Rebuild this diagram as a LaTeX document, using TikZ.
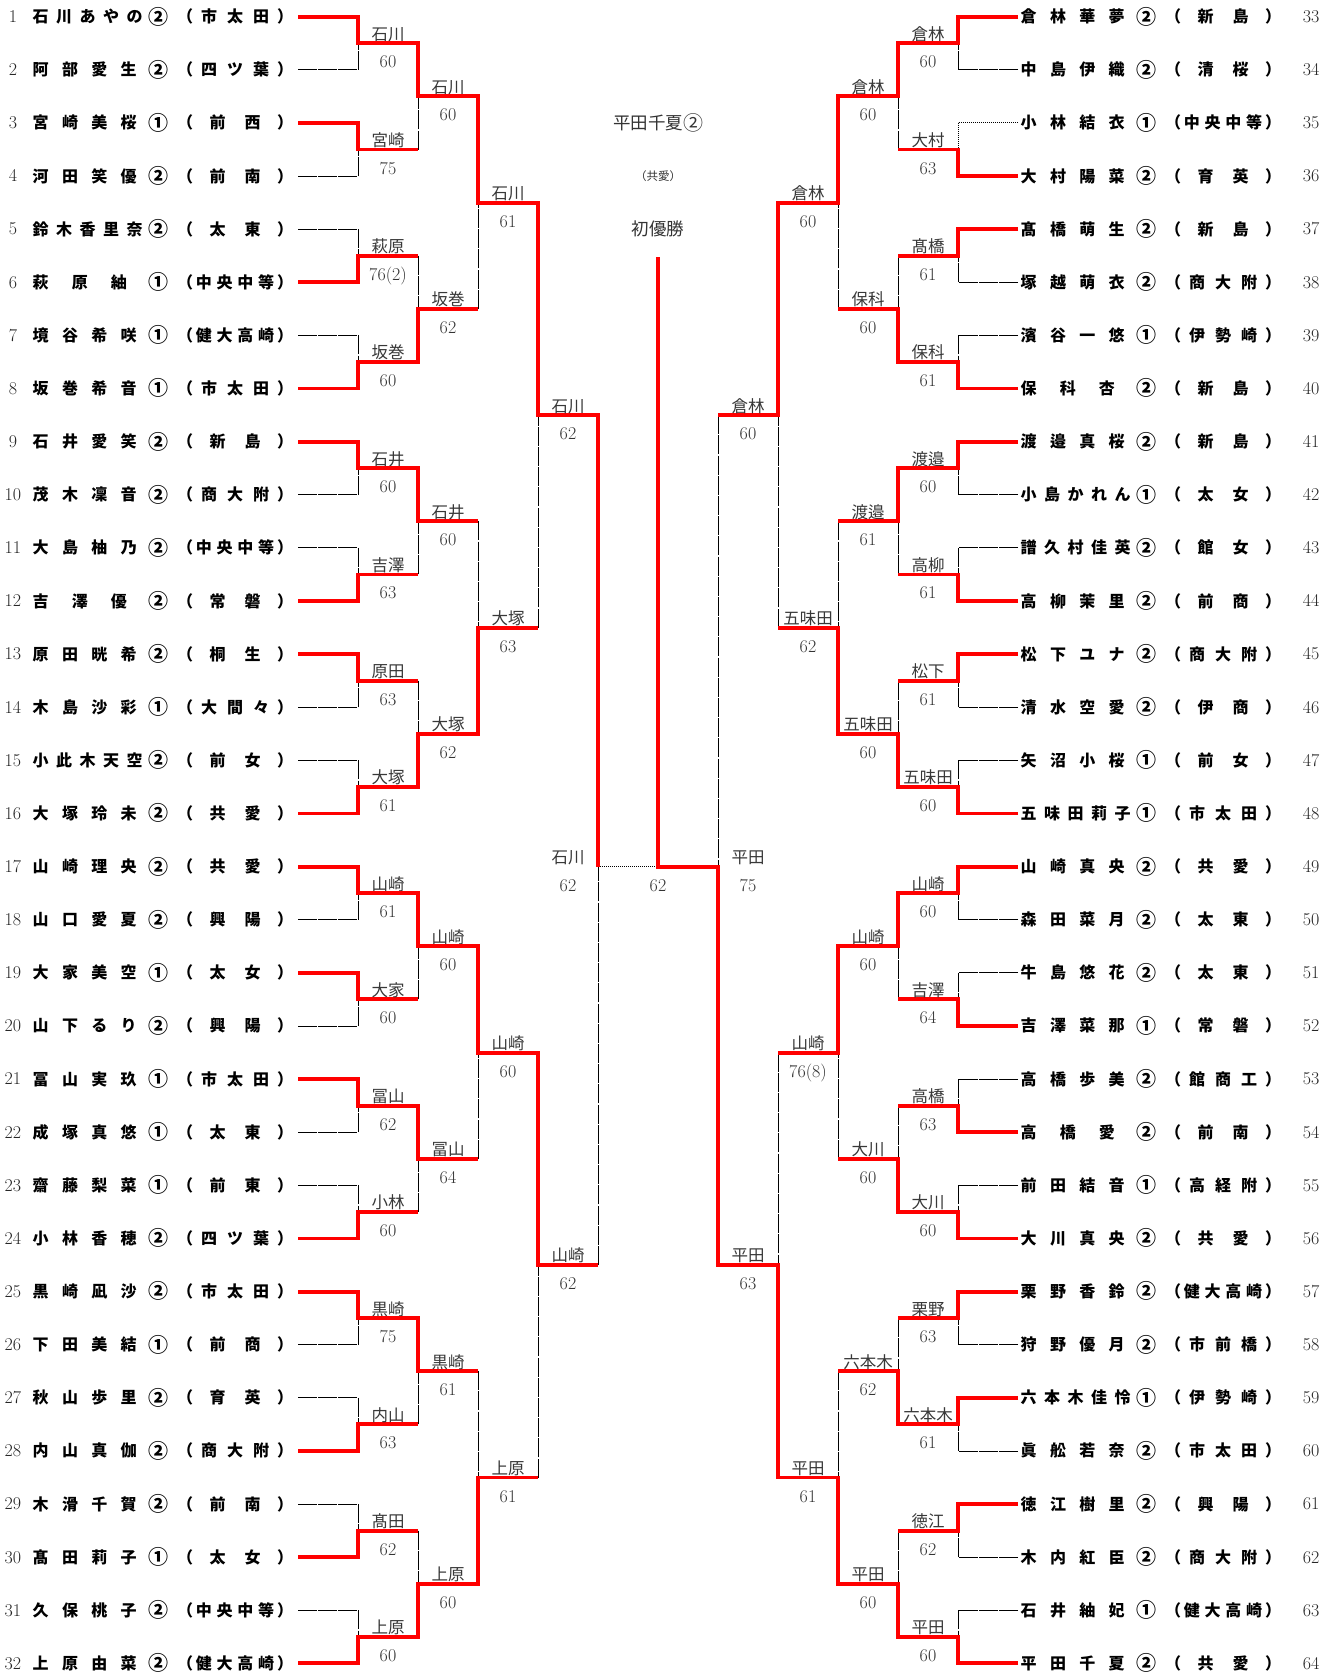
\documentclass[tikz,border=0pt]{standalone}
\usepackage{fontspec}
\newfontfamily\cjk{Noto Sans CJK JP}
\pgfdeclarelayer{bg}
\pgfsetlayers{bg,main}
\newcommand\cn[1]{\raisebox{-1.4pt}{\fontsize{20}{20}\selectfont#1}}
\tikzset{
 win/.style={draw=red, line width=3.9pt, line join=miter},
 lose/.style={draw=black, line width=0.9pt, dash pattern=on 19pt off 1.2pt},
 dotl/.style={draw=black, line width=0.9pt, dash pattern=on 0.9pt off 1.1pt},
 nm/.style={anchor=base, yshift=-6pt, inner sep=0pt, font=\cjk\bfseries\fontsize{16}{16}\selectfont},
 num/.style={anchor=base, yshift=-5.8pt, inner sep=0pt, text=black!85, font=\fontsize{18}{18}\selectfont},
 lab/.style={anchor=base, yshift=-6.2pt, inner sep=0pt, text=black!78, font=\cjk\fontsize{16.5}{16.5}\selectfont},
 sc/.style={anchor=base, yshift=-5.8pt, inner sep=0pt, text=black!80, font=\fontsize{18}{18}\selectfont},
 champ/.style={anchor=base, yshift=-6.5pt, inner sep=0pt, text=black!80, font=\cjk\fontsize{17.5}{17.5}\selectfont},
 champs/.style={anchor=base, yshift=-4.3pt, inner sep=0pt, text=black!80, font=\cjk\fontsize{11.5}{11.5}\selectfont},
}
% match: [loser style]{side}{round}{first row}{winner 0 top/1 bottom}{label}{score}
\newcommand\bm[7][lose]{%
 \pgfmathsetmacro\nn{2^#3}%
 \pgfmathsetmacro\yt{16.7+53.12*((2*#4+\nn/2-1)/2-1)}%
 \pgfmathsetmacro\yb{16.7+53.12*((2*#4+1.5*\nn-1)/2-1)}%
 \pgfmathsetmacro\ym{(\yt+\yb)/2}%
 \pgfmathsetmacro\xp{658-(#2)*(420-60*#3)}%
 \pgfmathsetmacro\xa{658-(#2)*(360-60*#3)}%
 \pgfmathsetmacro\xb{658-(#2)*(300-60*#3)}%
 \pgfmathsetmacro\xl{(\xa+\xb)/2}%
 \ifnum#5=0 \let\yw\yt \let\yl\yb \else \let\yw\yb \let\yl\yt \fi
 \coordinate (w#3s#2a#4) at (\xb,\ym);
 \coordinate (v#3s#2a#4) at (\xa,\ym);
 \begin{pgfonlayer}{bg}
  \draw[#1] (\xa,\yl) -- (v#3s#2a#4);
  \ifnum#3=1 \draw[#1] (\xp,\yl) -- (\xa,\yl);\fi
 \end{pgfonlayer}
 \draw[win] (\xp,\yw) -- (\xa,\yw) -- (v#3s#2a#4) -- (w#3s#2a#4);
 \node[lab] (L#3s#2a#4) at (\xl,\ym-9.3) {#6};
 \node[sc] (S#3s#2a#4) at (\xl,\ym+18.7) {#7};
}
% entry: {row}{name chars}{school chars}
\newcommand\entry[3]{%
 \ifnum#1>32 \def\xo{988}\pgfmathsetmacro\ey{16.7+53.12*(#1-33)}\def\nx{1311}%
 \else \def\xo{0}\pgfmathsetmacro\ey{16.7+53.12*(#1-1)}\def\nx{13}\fi
 \node[num] (r#1) at (\nx,\ey) {#1};
 \foreach \c [count=\k] in {#2} {\xdef\nname{\k}}
 \foreach \c [count=\k] in {#2} {\node[nm] (r#1n\k) at ({\xo+40.7+(\k-1)*117.3/(\nname-1)},\ey) {\c};}
 \node[nm] (r#1o) at (\xo+185,\ey) {（};
 \node[nm] (r#1c) at (\xo+285,\ey) {）};
 \foreach \c [count=\k] in {#3} {\xdef\nsch{\k}}
 \pgfmathsetmacro\schsp{\nsch==2 ? 35 : (\nsch==3 ? 26 : 20.8)}
 \foreach \c [count=\k] in {#3} {\node[nm] (r#1s\k) at ({\xo+235+(\k-(\nsch+1)/2)*\schsp},\ey) {\c};}
}
\begin{document}
\begin{tikzpicture}[x=1pt,y=-1pt]
\begin{pgfonlayer}{bg}
\fill[white] (0,0) rectangle (1338,1676);
\end{pgfonlayer}
\useasboundingbox (0,0) rectangle (1338,1676);

% ---- entries, left
\entry{1}{石,川,あ,や,の,\cn{②}}{市,太,田}
\entry{2}{阿,部,愛,生,\cn{②}}{四,ツ,葉}
\entry{3}{宮,崎,美,桜,\cn{①}}{前,西}
\entry{4}{河,田,笑,優,\cn{②}}{前,南}
\entry{5}{鈴,木,香,里,奈,\cn{②}}{太,東}
\entry{6}{萩,原,紬,\cn{①}}{中,央,中,等}
\entry{7}{境,谷,希,咲,\cn{①}}{健,大,高,崎}
\entry{8}{坂,巻,希,音,\cn{①}}{市,太,田}
\entry{9}{石,井,愛,笑,\cn{②}}{新,島}
\entry{10}{茂,木,凜,音,\cn{②}}{商,大,附}
\entry{11}{大,島,柚,乃,\cn{②}}{中,央,中,等}
\entry{12}{吉,澤,優,\cn{②}}{常,磐}
\entry{13}{原,田,晄,希,\cn{②}}{桐,生}
\entry{14}{木,島,沙,彩,\cn{①}}{大,間,々}
\entry{15}{小,此,木,天,空,\cn{②}}{前,女}
\entry{16}{大,塚,玲,未,\cn{②}}{共,愛}
\entry{17}{山,崎,理,央,\cn{②}}{共,愛}
\entry{18}{山,口,愛,夏,\cn{②}}{興,陽}
\entry{19}{大,家,美,空,\cn{①}}{太,女}
\entry{20}{山,下,る,り,\cn{②}}{興,陽}
\entry{21}{冨,山,実,玖,\cn{①}}{市,太,田}
\entry{22}{成,塚,真,悠,\cn{①}}{太,東}
\entry{23}{齋,藤,梨,菜,\cn{①}}{前,東}
\entry{24}{小,林,香,穂,\cn{②}}{四,ツ,葉}
\entry{25}{黒,崎,凪,沙,\cn{②}}{市,太,田}
\entry{26}{下,田,美,結,\cn{①}}{前,商}
\entry{27}{秋,山,歩,里,\cn{②}}{育,英}
\entry{28}{内,山,真,伽,\cn{②}}{商,大,附}
\entry{29}{木,滑,千,賀,\cn{②}}{前,南}
\entry{30}{髙,田,莉,子,\cn{①}}{太,女}
\entry{31}{久,保,桃,子,\cn{②}}{中,央,中,等}
\entry{32}{上,原,由,菜,\cn{②}}{健,大,高,崎}
% ---- entries, right
\entry{33}{倉,林,華,夢,\cn{②}}{新,島}
\entry{34}{中,島,伊,織,\cn{②}}{清,桜}
\entry{35}{小,林,結,衣,\cn{①}}{中,央,中,等}
\entry{36}{大,村,陽,菜,\cn{②}}{育,英}
\entry{37}{髙,橋,萌,生,\cn{②}}{新,島}
\entry{38}{塚,越,萌,衣,\cn{②}}{商,大,附}
\entry{39}{濱,谷,一,悠,\cn{①}}{伊,勢,崎}
\entry{40}{保,科,杏,\cn{②}}{新,島}
\entry{41}{渡,邉,真,桜,\cn{②}}{新,島}
\entry{42}{小,島,か,れ,ん,\cn{①}}{太,女}
\entry{43}{譜,久,村,佳,英,\cn{②}}{館,女}
\entry{44}{高,柳,茉,里,\cn{②}}{前,商}
\entry{45}{松,下,ユ,ナ,\cn{②}}{商,大,附}
\entry{46}{清,水,空,愛,\cn{②}}{伊,商}
\entry{47}{矢,沼,小,桜,\cn{①}}{前,女}
\entry{48}{五,味,田,莉,子,\cn{①}}{市,太,田}
\entry{49}{山,崎,真,央,\cn{②}}{共,愛}
\entry{50}{森,田,菜,月,\cn{②}}{太,東}
\entry{51}{牛,島,悠,花,\cn{②}}{太,東}
\entry{52}{吉,澤,菜,那,\cn{①}}{常,磐}
\entry{53}{高,橋,歩,美,\cn{②}}{館,商,工}
\entry{54}{高,橋,愛,\cn{②}}{前,南}
\entry{55}{前,田,結,音,\cn{①}}{高,経,附}
\entry{56}{大,川,真,央,\cn{②}}{共,愛}
\entry{57}{栗,野,香,鈴,\cn{②}}{健,大,高,崎}
\entry{58}{狩,野,優,月,\cn{②}}{市,前,橋}
\entry{59}{六,本,木,佳,怜,\cn{①}}{伊,勢,崎}
\entry{60}{眞,舩,若,奈,\cn{②}}{市,太,田}
\entry{61}{徳,江,樹,里,\cn{②}}{興,陽}
\entry{62}{木,内,紅,臣,\cn{②}}{商,大,附}
\entry{63}{石,井,紬,妃,\cn{①}}{健,大,高,崎}
\entry{64}{平,田,千,夏,\cn{②}}{共,愛}

% ---- left bracket
\bm{1}{1}{1}{0}{石川}{60}
\bm{1}{1}{3}{0}{宮崎}{75}
\bm{1}{1}{5}{1}{萩原}{76(2)}
\bm{1}{1}{7}{1}{坂巻}{60}
\bm{1}{1}{9}{0}{石井}{60}
\bm{1}{1}{11}{1}{吉澤}{63}
\bm{1}{1}{13}{0}{原田}{63}
\bm{1}{1}{15}{1}{大塚}{61}
\bm{1}{1}{17}{0}{山崎}{61}
\bm{1}{1}{19}{0}{大家}{60}
\bm{1}{1}{21}{0}{冨山}{62}
\bm{1}{1}{23}{1}{小林}{60}
\bm{1}{1}{25}{0}{黒崎}{75}
\bm{1}{1}{27}{1}{内山}{63}
\bm{1}{1}{29}{1}{髙田}{62}
\bm{1}{1}{31}{1}{上原}{60}
\bm{1}{2}{1}{0}{石川}{60}
\bm{1}{2}{5}{1}{坂巻}{62}
\bm{1}{2}{9}{0}{石井}{60}
\bm{1}{2}{13}{1}{大塚}{62}
\bm{1}{2}{17}{0}{山崎}{60}
\bm{1}{2}{21}{0}{冨山}{64}
\bm{1}{2}{25}{0}{黒崎}{61}
\bm{1}{2}{29}{1}{上原}{60}
\bm{1}{3}{1}{0}{石川}{61}
\bm{1}{3}{9}{1}{大塚}{63}
\bm{1}{3}{17}{0}{山崎}{60}
\bm{1}{3}{25}{1}{上原}{61}
\bm{1}{4}{1}{0}{石川}{62}
\bm{1}{4}{17}{0}{山崎}{62}
% ---- right bracket
\bm{-1}{1}{1}{0}{倉林}{60}
\bm[dotl]{-1}{1}{3}{1}{大村}{63}
\bm{-1}{1}{5}{0}{髙橋}{61}
\bm{-1}{1}{7}{1}{保科}{61}
\bm{-1}{1}{9}{0}{渡邉}{60}
\bm{-1}{1}{11}{1}{高柳}{61}
\bm{-1}{1}{13}{0}{松下}{61}
\bm{-1}{1}{15}{1}{五味田}{60}
\bm{-1}{1}{17}{0}{山崎}{60}
\bm{-1}{1}{19}{1}{吉澤}{64}
\bm{-1}{1}{21}{1}{高橋}{63}
\bm{-1}{1}{23}{1}{大川}{60}
\bm{-1}{1}{25}{0}{栗野}{63}
\bm{-1}{1}{27}{0}{六本木}{61}
\bm{-1}{1}{29}{0}{徳江}{62}
\bm{-1}{1}{31}{1}{平田}{60}
\bm{-1}{2}{1}{0}{倉林}{60}
\bm{-1}{2}{5}{1}{保科}{60}
\bm{-1}{2}{9}{0}{渡邉}{61}
\bm{-1}{2}{13}{1}{五味田}{60}
\bm{-1}{2}{17}{0}{山崎}{60}
\bm{-1}{2}{21}{1}{大川}{60}
\bm{-1}{2}{25}{1}{六本木}{62}
\bm{-1}{2}{29}{1}{平田}{60}
\bm{-1}{3}{1}{0}{倉林}{60}
\bm{-1}{3}{9}{1}{五味田}{62}
\bm{-1}{3}{17}{0}{山崎}{76(8)}
\bm{-1}{3}{25}{1}{平田}{61}
\bm{-1}{4}{1}{0}{倉林}{60}
\bm{-1}{4}{17}{1}{平田}{63}

% ---- semifinals and final
\coordinate (LT) at (598,415.1);
\coordinate (LB) at (598,1265.02);
\coordinate (LF) at (598,866.62);
\coordinate (CF) at (658,866.62);
\coordinate (CT) at (658,256.7);
\coordinate (RT) at (718,415.1);
\coordinate (RB) at (718,1265.02);
\coordinate (RF) at (718,866.62);
\begin{pgfonlayer}{bg}
\draw[lose] (LB) -- (LF);
\draw[lose] (RT) -- (RF);
\draw[dotl] (LF) -- (CF);
\end{pgfonlayer}
\draw[win] (578,415.1) -- (LT) -- (LF);
\draw[win] (738,1265.02) -- (RB) -- (RF) -- (CF) -- (CT);
\node[lab] (LSl) at (568,857.3) {石川};
\node[sc] (LSs) at (568,885.3) {62};
\node[sc] (FS) at (658,885.3) {62};
\node[lab] (RSl) at (748,857.3) {平田};
\node[sc] (RSs) at (748,885.3) {75};

\node[champ] (champ) at (658,123) {平田千夏\cn{②}};
\node[champs] (champsch) at (658,176) {（共愛）};
\node[champ] (champt) at (658,229) {初優勝};
\end{tikzpicture}
\end{document}
